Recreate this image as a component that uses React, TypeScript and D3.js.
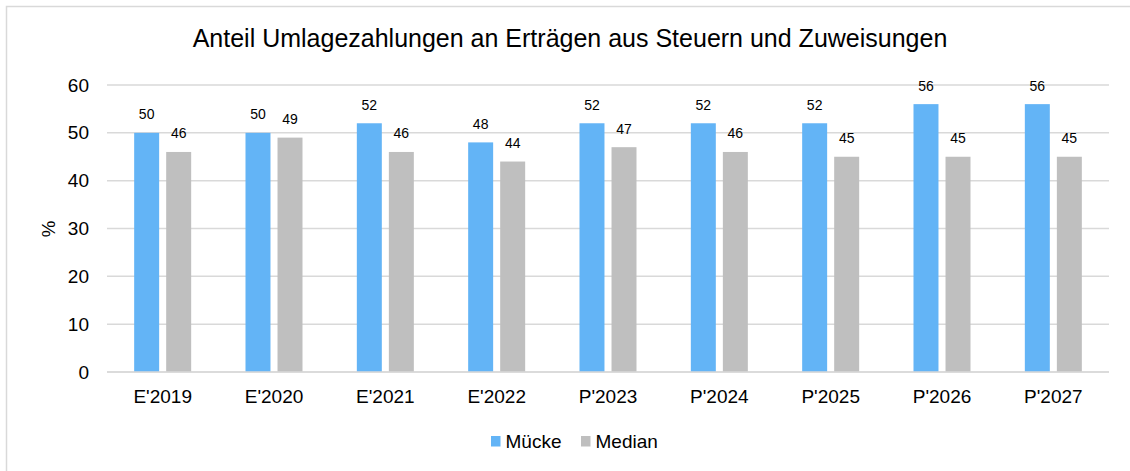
import React, { useEffect, useRef } from "react";
import * as d3 from "d3";

const categories = ["E'2019", "E'2020", "E'2021", "E'2022", "P'2023", "P'2024", "P'2025", "P'2026", "P'2027"];
const mueckeValues = [50, 50, 52, 48, 52, 52, 52, 56, 56];
const medianValues = [46, 49, 46, 44, 47, 46, 45, 45, 45];
const seriesNames = ["Mücke", "Median"];
const seriesColors = ["#63b4f6", "#bfbfbf"];
const yTicks = [0, 10, 20, 30, 40, 50, 60];

const width = 1130;
const height = 471;
const margin = { top: 85, right: 21, bottom: 99, left: 107 };
const font = "Arial, 'Liberation Sans', sans-serif";

const App = () => {
  const svgRef = useRef<SVGSVGElement>(null);

  useEffect(() => {
    const svg = d3.select(svgRef.current);
    svg.selectAll("*").remove();

    const innerW = width - margin.left - margin.right;
    const innerH = height - margin.top - margin.bottom;

    // outer padding is half the inner padding so steps fill the full width
    const x0 = d3
      .scaleBand()
      .domain(categories)
      .range([0, innerW])
      .paddingInner(0.488)
      .paddingOuter(0.244);
    const x1 = d3
      .scaleBand()
      .domain(seriesNames)
      .range([0, x0.bandwidth()])
      .paddingInner(0.22);
    const y = d3.scaleLinear().domain([0, 60]).range([innerH, 0]);

    // chart frame (top and left edges only are visible)
    svg
      .append("path")
      .attr("d", `M6.5,${height} L6.5,6.5 L${width},6.5`)
      .attr("fill", "none")
      .attr("stroke", "#d9d9d9")
      .attr("stroke-width", 1.5);

    svg
      .append("text")
      .attr("x", 570)
      .attr("y", 47)
      .attr("text-anchor", "middle")
      .attr("font-family", font)
      .attr("font-size", 25)
      .attr("fill", "#000")
      .text("Anteil Umlagezahlungen an Erträgen aus Steuern und Zuweisungen");

    const g = svg.append("g").attr("transform", `translate(${margin.left},${margin.top})`);

    // gridlines
    g.selectAll(".grid")
      .data(yTicks)
      .enter()
      .append("line")
      .attr("x1", 0)
      .attr("x2", innerW)
      .attr("y1", (d) => y(d))
      .attr("y2", (d) => y(d))
      .attr("stroke", "#d9d9d9")
      .attr("stroke-width", 1.5);

    // y tick labels
    g.selectAll(".ytick")
      .data(yTicks)
      .enter()
      .append("text")
      .attr("x", -18)
      .attr("y", (d) => y(d))
      .attr("dy", "0.35em")
      .attr("text-anchor", "end")
      .attr("font-family", font)
      .attr("font-size", 19)
      .attr("fill", "#000")
      .text((d) => d);

    const rows = categories.map((c, i) => ({
      category: c,
      values: [
        { key: seriesNames[0], value: mueckeValues[i], color: seriesColors[0] },
        { key: seriesNames[1], value: medianValues[i], color: seriesColors[1] },
      ],
    }));

    const groups = g
      .selectAll(".group")
      .data(rows)
      .enter()
      .append("g")
      .attr("transform", (d) => `translate(${x0(d.category)},0)`);

    groups
      .selectAll("rect")
      .data((d) => d.values)
      .enter()
      .append("rect")
      .attr("x", (d) => x1(d.key))
      .attr("y", (d) => y(d.value))
      .attr("width", x1.bandwidth())
      .attr("height", (d) => innerH - y(d.value))
      .attr("fill", (d) => d.color);

    groups
      .selectAll(".label")
      .data((d) => d.values)
      .enter()
      .append("text")
      .attr("x", (d) => x1(d.key) + x1.bandwidth() / 2)
      .attr("y", (d) => y(d.value) - 13.5)
      .attr("text-anchor", "middle")
      .attr("font-family", font)
      .attr("font-size", 14)
      .attr("fill", "#000")
      .text((d) => d.value);

    // baseline on top of bars
    g.append("line")
      .attr("x1", 0)
      .attr("x2", innerW)
      .attr("y1", innerH)
      .attr("y2", innerH)
      .attr("stroke", "#d9d9d9")
      .attr("stroke-width", 1.5);

    // x tick labels
    g.selectAll(".xtick")
      .data(categories)
      .enter()
      .append("text")
      .attr("x", (d) => x0(d) + x0.bandwidth() / 2)
      .attr("y", innerH + 31)
      .attr("text-anchor", "middle")
      .attr("font-family", font)
      .attr("font-size", 19)
      .attr("fill", "#000")
      .text((d) => d);

    // y axis title
    svg
      .append("text")
      .attr("transform", "translate(48,229) rotate(-90)")
      .attr("dy", "0.35em")
      .attr("text-anchor", "middle")
      .attr("font-family", font)
      .attr("font-size", 18.7)
      .attr("fill", "#000")
      .text("%");

    // legend
    const legendX = [491, 581];
    const legend = svg
      .selectAll(".legend")
      .data(seriesNames)
      .enter()
      .append("g")
      .attr("transform", (d, i) => `translate(${legendX[i]},436)`);
    legend
      .append("rect")
      .attr("width", 9.5)
      .attr("height", 10.5)
      .attr("fill", (d, i) => seriesColors[i]);
    legend
      .append("text")
      .attr("x", 14.5)
      .attr("y", 5.5)
      .attr("dy", "0.35em")
      .attr("font-family", font)
      .attr("font-size", 19)
      .attr("fill", "#000")
      .text((d) => d);
  }, []);

  return (
    <div style={{ position: "absolute", left: 0, top: 0 }}>
      <svg ref={svgRef} width={width} height={height} style={{ display: "block", background: "#fff" }}></svg>
    </div>
  );
};

export default App;
